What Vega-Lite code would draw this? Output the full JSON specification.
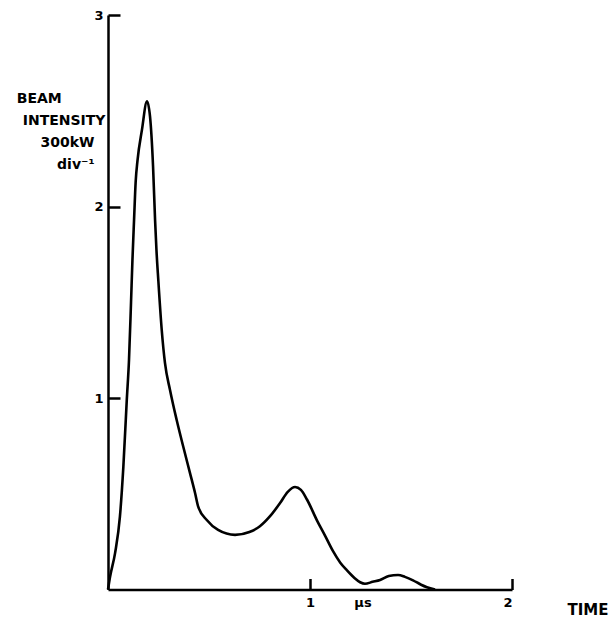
{
  "$schema": "https://vega.github.io/schema/vega-lite/v6.json",
  "width": 404,
  "height": 574.5,
  "autosize": {"type": "none"},
  "padding": {"left": 108, "top": 15, "right": 99, "bottom": 28.5},
  "background": "white",
  "config": {"view": {"stroke": null}, "font": "DejaVu Sans"},
  "data": {
    "values": [
      {"t": 0, "v": 0},
      {"t": 0.01, "v": 0.065},
      {"t": 0.035, "v": 0.19},
      {"t": 0.059, "v": 0.38},
      {"t": 0.076, "v": 0.64},
      {"t": 0.093, "v": 0.99},
      {"t": 0.104, "v": 1.2},
      {"t": 0.114, "v": 1.5},
      {"t": 0.121, "v": 1.72},
      {"t": 0.129, "v": 1.93},
      {"t": 0.137, "v": 2.13},
      {"t": 0.146, "v": 2.24},
      {"t": 0.168, "v": 2.4},
      {"t": 0.193, "v": 2.55},
      {"t": 0.208, "v": 2.47},
      {"t": 0.223, "v": 2.21},
      {"t": 0.233, "v": 1.93},
      {"t": 0.24, "v": 1.77},
      {"t": 0.249, "v": 1.616},
      {"t": 0.266, "v": 1.355},
      {"t": 0.282, "v": 1.183},
      {"t": 0.307, "v": 1.042},
      {"t": 0.34, "v": 0.885},
      {"t": 0.373, "v": 0.744},
      {"t": 0.406, "v": 0.608},
      {"t": 0.431, "v": 0.504},
      {"t": 0.447, "v": 0.431},
      {"t": 0.489, "v": 0.363},
      {"t": 0.545, "v": 0.311},
      {"t": 0.629, "v": 0.285},
      {"t": 0.7, "v": 0.3},
      {"t": 0.752, "v": 0.33},
      {"t": 0.8, "v": 0.38},
      {"t": 0.851, "v": 0.45},
      {"t": 0.89, "v": 0.51},
      {"t": 0.926, "v": 0.535},
      {"t": 0.955, "v": 0.52},
      {"t": 0.985, "v": 0.47},
      {"t": 1.035, "v": 0.36},
      {"t": 1.075, "v": 0.28},
      {"t": 1.114, "v": 0.2},
      {"t": 1.15, "v": 0.14},
      {"t": 1.183, "v": 0.1},
      {"t": 1.22, "v": 0.06},
      {"t": 1.248, "v": 0.038},
      {"t": 1.272, "v": 0.03},
      {"t": 1.31, "v": 0.04},
      {"t": 1.347, "v": 0.05},
      {"t": 1.39, "v": 0.07},
      {"t": 1.436, "v": 0.076},
      {"t": 1.47, "v": 0.066},
      {"t": 1.51, "v": 0.048},
      {"t": 1.55, "v": 0.025},
      {"t": 1.579, "v": 0.012},
      {"t": 1.619, "v": 0}
    ]
  },
  "mark": {"type": "line", "color": "black", "strokeWidth": 2.6, "interpolate": "monotone", "clip": false},
  "encoding": {
    "x": {
      "field": "t",
      "type": "quantitative",
      "scale": {"domain": [0, 2], "nice": false},
      "axis": {
        "values": [1, 1.26, 2],
        "labelExpr": "datum.value == 1.26 ? 'μs' : format(datum.value, 'd')",
        "tickSize": -11,
        "tickWidth": 2.5,
        "tickColor": "black",
        "tickOpacity": {"condition": {"test": "datum.value == 1.26", "value": 0}, "value": 1},
        "domainColor": "black",
        "domainWidth": 2.5,
        "labelFontSize": 13,
        "labelFontWeight": "bold",
        "labelColor": "black",
        "labelPadding": 18,
        "grid": false,
        "title": "TIME",
        "titleX": 459,
        "titleY": 25,
        "titleAlign": "left",
        "titleBaseline": "alphabetic",
        "titleFontSize": 15,
        "titleFontWeight": "bold",
        "titleColor": "black"
      }
    },
    "y": {
      "field": "v",
      "type": "quantitative",
      "scale": {"domain": [0, 3], "nice": false},
      "axis": {
        "values": [1, 2, 3],
        "tickSize": -12,
        "tickWidth": 2.5,
        "tickColor": "black",
        "domainColor": "black",
        "domainWidth": 2.5,
        "labelFontSize": 13,
        "labelFontWeight": "bold",
        "labelColor": "black",
        "labelPadding": 17,
        "grid": false,
        "title": ["BEAM\u2800\u2800\u2800\u2800", "INTENSITY", "300kW\u2800", "div⁻¹\u2800"],
        "titleAngle": 0,
        "titleAlign": "right",
        "titleBaseline": "alphabetic",
        "titleX": -3,
        "titleY": 87,
        "titleLineHeight": 22,
        "titleFontSize": 14,
        "titleFontWeight": "bold",
        "titleColor": "black"
      }
    }
  }
}
